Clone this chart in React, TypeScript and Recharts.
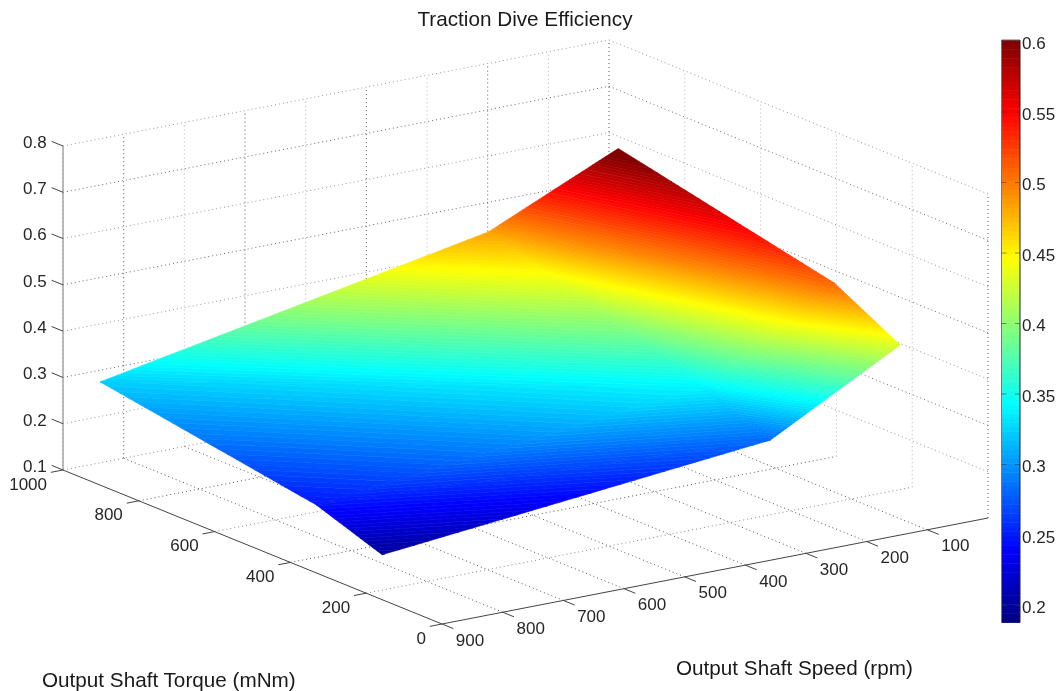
import React from 'react';
import { ComposedChart, Area, Line, XAxis, YAxis } from 'recharts';

// ---- data ----
const speeds = [46, 260, 900];
const torques = [158, 332, 902];
const effAtTorque158 = [0.433, 0.282, 0.197];
const effAtTorque332 = [0.509, 0.34, 0.247];
const effAtTorque902 = [0.61, 0.484, 0.323];
const efficiency = [effAtTorque158, effAtTorque332, effAtTorque902];

const speedTicks = [100, 200, 300, 400, 500, 600, 700, 800, 900];
const torqueTicks = [0, 200, 400, 600, 800, 1000];
const effTicks = [0.1, 0.2, 0.3, 0.4, 0.5, 0.6, 0.7, 0.8];
const barTicks = [0.2, 0.25, 0.3, 0.35, 0.4, 0.45, 0.5, 0.55, 0.6];
const barTickLabels = ['0.2', '0.25', '0.3', '0.35', '0.4', '0.45', '0.5', '0.55', '0.6'];

const TITLE = 'Traction Dive Efficiency';
const TORQUE_LABEL = 'Output Shaft Torque (mNm)';
const SPEED_LABEL = 'Output Shaft Speed (rpm)';

// ---- view ----
const W = 1060;
const H = 691;
const FONT = '"Liberation Sans", Arial, sans-serif';
const FS = 17;
const TITLE_FS = 20.7;
const TXT = '#262626';
const C_MIN = 0.188;
const C_MAX = 0.601;
const LEVELS = 128;

type P = { x: number; y: number; z: number };
const proj = (t: number, s: number, z: number): P => ({
  x: 442 + (900 - s) * (546 / 900) - t * (379 / 1000),
  y: 624 - (900 - s) * (106 / 900) - t * (154 / 1000) - (z - 0.1) * (324 / 0.7),
  z,
});

const jet = (i: number) => {
  const v = (i + 0.5) / LEVELS;
  const ch = (o: number) => Math.max(0, Math.min(1, 1.5 - Math.abs(4 * v - o)));
  const c = (n: number) => Math.round(n * 255);
  return `rgb(${c(ch(3))},${c(ch(2))},${c(ch(1))})`;
};

const clip = (poly: P[], lo: number, keepAbove: boolean): P[] => {
  const inside = (p: P) => (keepAbove ? p.z >= lo : p.z <= lo);
  const out: P[] = [];
  poly.forEach((a, i) => {
    const b = poly[(i + 1) % poly.length];
    if (inside(a)) out.push(a);
    if (inside(a) !== inside(b)) {
      const f = (lo - a.z) / (b.z - a.z);
      out.push({ x: a.x + f * (b.x - a.x), y: a.y + f * (b.y - a.y), z: lo });
    }
  });
  return out;
};

const envelope = (poly: P[]) => {
  const xs = Array.from(new Set(poly.map((p) => +p.x.toFixed(3)))).sort((a, b) => a - b);
  if (xs.length < 2) return [];
  return xs.map((x) => {
    const ys: number[] = [];
    poly.forEach((a, i) => {
      const b = poly[(i + 1) % poly.length];
      const lo = Math.min(a.x, b.x) - 0.002;
      const hi = Math.max(a.x, b.x) + 0.002;
      if (x < lo || x > hi) return;
      if (Math.abs(a.x - b.x) < 0.002) ys.push(a.y, b.y);
      else ys.push(a.y + ((x - a.x) / (b.x - a.x)) * (b.y - a.y));
    });
    return { x, range: [Math.min(...ys), Math.max(...ys)] };
  });
};

const triangles: P[][] = [];
for (let r = 0; r < torques.length - 1; r++) {
  for (let c = 0; c < speeds.length - 1; c++) {
    const a = proj(torques[r], speeds[c], efficiency[r][c]);
    const b = proj(torques[r], speeds[c + 1], efficiency[r][c + 1]);
    const d = proj(torques[r + 1], speeds[c], efficiency[r + 1][c]);
    const e = proj(torques[r + 1], speeds[c + 1], efficiency[r + 1][c + 1]);
    triangles.push([a, b, e], [a, e, d]);
  }
}

const bands: { color: string; data: { x: number; range: number[] }[] }[] = [];
triangles.forEach((tri) => {
  for (let i = 0; i < LEVELS; i++) {
    const lo = C_MIN + ((C_MAX - C_MIN) * i) / LEVELS;
    const hi = i === LEVELS - 1 ? 1 : C_MIN + ((C_MAX - C_MIN) * (i + 1)) / LEVELS;
    const p = clip(clip(tri, lo, true), hi, false);
    if (p.length < 3) continue;
    const data = envelope(p);
    if (data.length) bands.push({ color: jet(i), data });
  }
});

type Seg = { data: { x: number; y: number }[]; color: string; dash?: string; w?: number };
const seg = (a: P, b: P, color: string, dash?: string, w?: number): Seg => ({
  data: [{ x: a.x, y: a.y }, { x: b.x, y: b.y }],
  color,
  dash,
  w,
});

const DOT = '1 3';
const DARK = '#555555';
const PALE = '#b4b4b4';
const segs: Seg[] = [];
// floor and wall grid
speedTicks.forEach((s) => {
  if (s < 900) segs.push(seg(proj(0, s, 0.1), proj(1000, s, 0.1), DARK, DOT));
  segs.push(seg(proj(1000, s, 0.1), proj(1000, s, 0.8), s % 200 === 0 ? DARK : PALE, DOT));
});
torqueTicks.forEach((t) => {
  if (t > 0) segs.push(seg(proj(t, 900, 0.1), proj(t, 0, 0.1), t % 400 === 0 ? DARK : '#8a8a8a', DOT));
  segs.push(seg(proj(t, 0, 0.1), proj(t, 0, 0.8), t === 0 || t === 1000 ? DARK : PALE, DOT));
});
effTicks.forEach((z, i) => {
  const col = i % 2 === 0 ? '#6a6a6a' : '#989898';
  if (z > 0.1) {
    segs.push(seg(proj(1000, 900, z), proj(1000, 0, z), col, DOT));
    segs.push(seg(proj(1000, 0, z), proj(0, 0, z), col, DOT));
  }
});
// axis lines
segs.push(seg(proj(1000, 900, 0.1), proj(1000, 900, 0.8), '#a0a0a0', undefined, 1.4));
segs.push(seg(proj(1000, 900, 0.1), proj(0, 900, 0.1), '#444444'));
segs.push(seg(proj(0, 900, 0.1), proj(0, 0, 0.1), '#444444'));
// ticks
effTicks.forEach((z) => segs.push(seg(proj(1000, 900, z), proj(1030, 900, z), '#444444')));
torqueTicks.forEach((t) => segs.push(seg(proj(t, 900, 0.1), proj(t, 920, 0.1), '#444444')));
speedTicks.forEach((s) => segs.push(seg(proj(0, s, 0.1), proj(-30, s, 0.1), '#444444')));

// colour bar
const BAR_L = 1001.5;
const BAR_R = 1020;
const barY = (v: number) => 41.5 + (0.6 - v) * 1410;
const barBands = Array.from({ length: LEVELS }, (_, i) => {
  const lo = C_MIN + ((C_MAX - C_MIN) * i) / LEVELS;
  const hi = C_MIN + ((C_MAX - C_MIN) * (i + 1)) / LEVELS;
  const range = [barY(hi), barY(lo) + 0.5];
  return { color: jet(i), data: [{ x: BAR_L, range }, { x: BAR_R, range }] };
});
const barSegs: Seg[] = [];
barSegs.push({ data: [{ x: BAR_R, y: barY(C_MAX) }, { x: BAR_R, y: barY(C_MIN) }], color: '#222222' });
barSegs.push({ data: [{ x: BAR_L, y: barY(C_MAX) }, { x: BAR_L, y: barY(C_MIN) }], color: '#777777' });
barSegs.push({ data: [{ x: BAR_L, y: barY(C_MAX) }, { x: BAR_R, y: barY(C_MAX) }], color: '#555555' });
barTicks.forEach((v) => {
  barSegs.push({ data: [{ x: BAR_L, y: barY(v) }, { x: BAR_L + 5, y: barY(v) }], color: '#33333388' });
  barSegs.push({ data: [{ x: BAR_R - 5, y: barY(v) }, { x: BAR_R, y: barY(v) }], color: '#33333388' });
});

const effLabels = effTicks.map((z) => {
  const p = proj(1030, 900, z);
  return { x: p.x, y: p.y, label: z.toFixed(1) };
});
const torqueLabels = torqueTicks.map((t) => {
  const p = proj(t, 900, 0.1);
  return { x: p.x, y: p.y, label: String(t) };
});
const speedLabels = speedTicks.map((s) => {
  const p = proj(0, s, 0.1);
  return { x: p.x, y: p.y, label: String(s) };
});
const barLabels = barTicks.map((v, i) => ({ x: BAR_R, y: barY(v), label: barTickLabels[i] }));

const labelDot =
  (dx: number, dy: number, anchor: 'start' | 'middle' | 'end') =>
  (p: any) => (
    <text
      key={p.index}
      x={p.cx + dx}
      y={p.cy + dy}
      textAnchor={anchor}
      dominantBaseline="central"
      fontFamily={FONT}
      fontSize={FS}
      fill={TXT}
    >
      {p.payload.label}
    </text>
  );

const labelSets = [
  { id: 'eff', data: effLabels, dot: labelDot(-5, 1, 'end') },
  { id: 'torque', data: torqueLabels, dot: labelDot(-16, 14, 'end') },
  { id: 'speed', data: speedLabels, dot: labelDot(28, 16, 'middle') },
  { id: 'bar', data: barLabels, dot: labelDot(2, 2, 'start') },
];

export default function App() {
  return (
    <div
      style={{
        position: 'absolute',
        left: 0,
        top: 0,
        width: W,
        height: H,
        background: '#fff',
        overflow: 'hidden',
        filter: 'blur(0.5px)',
      }}
    >
      <ComposedChart width={W} height={H} margin={{ top: 0, right: 0, bottom: 0, left: 0 }}>
        <XAxis dataKey="x" type="number" domain={[0, W]} hide />
        <YAxis type="number" domain={[0, H]} reversed hide />
        {segs.map((s, i) => (
          <Line
            key={`seg${i}`}
            data={s.data}
            dataKey="y"
            type="linear"
            stroke={s.color}
            strokeWidth={s.w ?? 1}
            strokeDasharray={s.dash}
            dot={false}
            activeDot={false}
            legendType="none"
            isAnimationActive={false}
            {...({ zIndex: 50 } as any)}
          />
        ))}
        {bands.map((b, i) => (
          <Area
            key={`band${i}`}
            data={b.data}
            dataKey="range"
            type="linear"
            fill={b.color}
            fillOpacity={1}
            stroke={b.color}
            strokeWidth={0.6}
            dot={false}
            activeDot={false}
            legendType="none"
            isAnimationActive={false}
          />
        ))}
        {barBands.map((b, i) => (
          <Area
            key={`bar${i}`}
            data={b.data}
            dataKey="range"
            type="linear"
            fill={b.color}
            fillOpacity={1}
            stroke="none"
            dot={false}
            activeDot={false}
            legendType="none"
            isAnimationActive={false}
          />
        ))}
        {barSegs.map((s, i) => (
          <Line
            key={`barseg${i}`}
            data={s.data}
            dataKey="y"
            type="linear"
            stroke={s.color}
            strokeWidth={1}
            dot={false}
            activeDot={false}
            legendType="none"
            isAnimationActive={false}
          />
        ))}
        {labelSets.map((l) => (
          <Line
            key={l.id}
            data={l.data}
            dataKey="y"
            type="linear"
            stroke="none"
            dot={l.dot}
            activeDot={false}
            legendType="none"
            isAnimationActive={false}
          />
        ))}
        <text x={525} y={18} textAnchor="middle" dominantBaseline="central" fontFamily={FONT} fontSize={TITLE_FS} fill="#1a1a1a">
          {TITLE}
        </text>
        <text x={42} y={679} textAnchor="start" dominantBaseline="central" fontFamily={FONT} fontSize={TITLE_FS} fill="#1a1a1a">
          {TORQUE_LABEL}
        </text>
        <text x={676} y={667} textAnchor="start" dominantBaseline="central" fontFamily={FONT} fontSize={TITLE_FS} fill="#1a1a1a">
          {SPEED_LABEL}
        </text>
      </ComposedChart>
    </div>
  );
}
